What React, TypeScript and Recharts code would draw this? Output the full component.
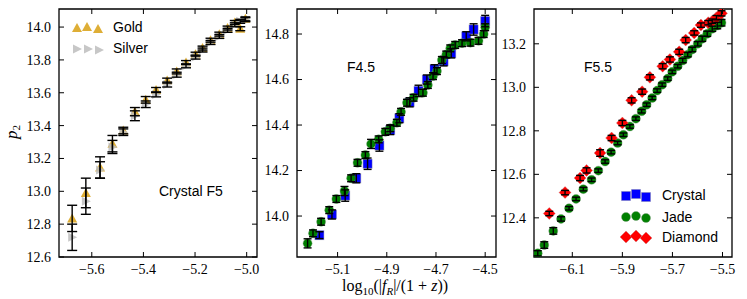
import React from 'react';
import { ScatterChart, Scatter, XAxis, YAxis, ErrorBar, ReferenceArea } from 'recharts';

// Crystal F5 panel (gold / silver)
const f5X = [-5.676, -5.623, -5.568, -5.52, -5.478, -5.433, -5.391, -5.351, -5.308, -5.271, -5.235, -5.198, -5.171, -5.14, -5.106, -5.074, -5.046, -5.025, -5.005];
const goldY = [12.835, 12.99, 13.145, 13.29, 13.37, 13.485, 13.557, 13.617, 13.674, 13.73, 13.784, 13.835, 13.872, 13.92, 13.957, 13.994, 14.028, 13.99, 14.05];
const goldErr = [0.08, 0.09, 0.065, 0.05, 0.02, 0.025, 0.02, 0.015, 0.015, 0.015, 0.012, 0.012, 0.012, 0.012, 0.012, 0.012, 0.012, 0.012, 0.012];
const silverY = [12.72, 12.94, 13.13, 13.27, 13.36, 13.46, 13.53, 13.59, 13.65, 13.71, 13.764, 13.817, 13.86, 13.906, 13.943, 13.98, 14.014, 14.035, 14.045];
const silverErr = [0.08, 0.08, 0.05, 0.04, 0.02, 0.03, 0.02, 0.015, 0.015, 0.015, 0.012, 0.012, 0.012, 0.012, 0.012, 0.012, 0.012, 0.012, 0.012];

// F4.5 panel
const f45JadeX = [-5.222, -5.2, -5.167, -5.134, -5.105, -5.072, -5.045, -5.019, -4.987, -4.964, -4.933, -4.906, -4.886, -4.859, -4.842, -4.818, -4.791, -4.753, -4.733, -4.712, -4.696, -4.676, -4.658, -4.642, -4.622, -4.594, -4.56, -4.527, -4.506, -4.5];
const f45JadeY = [13.88, 13.924, 13.975, 14.026, 14.075, 14.11, 14.166, 14.234, 14.268, 14.317, 14.337, 14.37, 14.386, 14.41, 14.458, 14.498, 14.52, 14.542, 14.576, 14.615, 14.637, 14.686, 14.71, 14.737, 14.752, 14.76, 14.762, 14.77, 14.8, 14.83];
const f45JadeErr = [0.02, 0.015, 0.015, 0.015, 0.015, 0.02, 0.015, 0.015, 0.015, 0.02, 0.015, 0.015, 0.015, 0.015, 0.015, 0.015, 0.015, 0.015, 0.015, 0.015, 0.015, 0.015, 0.015, 0.015, 0.015, 0.015, 0.015, 0.015, 0.015, 0.015];
const f45CrystalX = [-5.174, -5.123, -5.069, -5.024, -4.978, -4.93, -4.886, -4.849, -4.807, -4.771, -4.737, -4.706, -4.669, -4.638, -4.577, -4.547, -4.5];
const f45CrystalY = [13.916, 14.007, 14.09, 14.166, 14.23, 14.31, 14.378, 14.43, 14.5, 14.55, 14.6, 14.645, 14.68, 14.715, 14.79, 14.82, 14.857];
const f45CrystalErr = [0.015, 0.02, 0.025, 0.02, 0.025, 0.025, 0.02, 0.02, 0.02, 0.025, 0.02, 0.02, 0.02, 0.02, 0.02, 0.025, 0.025];

// F5.5 panel
const f55JadeX = [-6.238, -6.212, -6.176, -6.145, -6.113, -6.085, -6.056, -6.023, -5.996, -5.969, -5.945, -5.919, -5.896, -5.87, -5.846, -5.823, -5.803, -5.781, -5.761, -5.741, -5.719, -5.701, -5.679, -5.659, -5.639, -5.621, -5.599, -5.581, -5.561, -5.541, -5.521, -5.504];
const f55JadeY = [12.237, 12.275, 12.34, 12.395, 12.444, 12.487, 12.532, 12.575, 12.617, 12.659, 12.702, 12.744, 12.782, 12.82, 12.856, 12.89, 12.92, 12.951, 12.985, 13.012, 13.04, 13.071, 13.097, 13.123, 13.15, 13.174, 13.2, 13.223, 13.246, 13.269, 13.284, 13.297];
const f55JadeErr = [0.012, 0.015, 0.015, 0.01, 0.008, 0.008, 0.008, 0.008, 0.008, 0.008, 0.008, 0.008, 0.008, 0.008, 0.008, 0.008, 0.008, 0.008, 0.008, 0.008, 0.008, 0.008, 0.008, 0.01, 0.01, 0.01, 0.01, 0.012, 0.012, 0.012, 0.015, 0.015];
const f55DiamondX = [-6.192, -6.129, -6.069, -6.043, -5.989, -5.943, -5.9, -5.863, -5.821, -5.79, -5.739, -5.71, -5.673, -5.647, -5.613, -5.586, -5.557, -5.541, -5.524, -5.504];
const f55DiamondY = [12.42, 12.516, 12.583, 12.618, 12.698, 12.767, 12.836, 12.94, 12.98, 13.046, 13.097, 13.128, 13.163, 13.217, 13.25, 13.286, 13.297, 13.304, 13.32, 13.34];
const f55DiamondErr = [0.01, 0.01, 0.012, 0.012, 0.015, 0.012, 0.012, 0.012, 0.012, 0.012, 0.012, 0.012, 0.012, 0.012, 0.01, 0.01, 0.01, 0.01, 0.01, 0.012];

const toPts = (xs: number[], ys: number[], es: number[]) =>
  xs.map((x, i) => ({ x, y: ys[i], err: es[i] }));

const fmt = (v: number) => v.toFixed(1).replace('-', '\u2212');
const serif = "'Liberation Serif', 'DejaVu Serif', serif";
const sans = "'Liberation Sans', Arial, sans-serif";

const Gold = (p: any) => (
  <polygon points={`${p.cx},${p.cy - 5} ${p.cx + 5},${p.cy + 4} ${p.cx - 5},${p.cy + 4}`} fill="#DAA520" fillOpacity={0.9} />
);
const Silver = (p: any) => (
  <polygon points={`${p.cx - 4},${p.cy - 4.5} ${p.cx + 5},${p.cy} ${p.cx - 4},${p.cy + 4.5}`} fill="#bdbdbd" fillOpacity={0.85} />
);
const Crystal = (p: any) => (
  <rect x={p.cx - 4.5} y={p.cy - 4.5} width={9} height={9} fill="#0000ff" stroke="#8080a0" strokeOpacity={0.4} />
);
const Jade = (p: any) => (
  <circle cx={p.cx} cy={p.cy} r={4.5} fill="#008000" stroke="#7a9a7a" strokeOpacity={0.4} />
);
const Diamond = (p: any) => (
  <polygon points={`${p.cx},${p.cy - 6} ${p.cx + 6},${p.cy} ${p.cx},${p.cy + 6} ${p.cx - 6},${p.cy}`} fill="#ff0000" stroke="#c08080" strokeOpacity={0.4} />
);
// error bars are drawn by a second scatter with no visible symbol, so they sit on top of the markers
const NoMark = () => <g />;

type Series = { name: string; data: { x: number; y: number; err: number }[]; shape: (p: any) => React.ReactElement; cap: number };

type PanelProps = {
  left: number; width: number; yW: number; ml: number; mr: number;
  xDomain: [number, number]; yDomain: [number, number];
  xTicks: number[]; yTicks: number[]; series: Series[];
};

const H = 299;
const MT = 9;
const XH = 30;
const MB = 12;

function Panel({ left, width, yW, ml, mr, xDomain, yDomain, xTicks, yTicks, series }: PanelProps) {
  const box = { left: ml + yW, right: width - mr, top: MT, bottom: H - MB - XH };
  const xTick = (props: any) => (
    <g>
      <line x1={props.x} x2={props.x} y1={box.bottom} y2={box.bottom - 5} stroke="#000" />
      <line x1={props.x} x2={props.x} y1={box.top} y2={box.top + 5} stroke="#000" />
      <text x={props.x} y={box.bottom + 17} textAnchor="middle" fontFamily={serif} fontSize={14} fill="#000">
        {fmt(props.payload.value)}
      </text>
    </g>
  );
  const yTick = (props: any) => (
    <g>
      <line x1={box.left} x2={box.left + 5} y1={props.y} y2={props.y} stroke="#000" />
      <line x1={box.right} x2={box.right - 5} y1={props.y} y2={props.y} stroke="#000" />
      <text x={box.left - 8} y={props.y} dy="0.35em" textAnchor="end" fontFamily={serif} fontSize={14} fill="#000">
        {fmt(props.payload.value)}
      </text>
    </g>
  );
  return (
    <div style={{ position: 'absolute', left, top: 0 }}>
      <ScatterChart width={width} height={H} margin={{ top: MT, right: mr, bottom: MB, left: ml }}>
        <XAxis type="number" dataKey="x" domain={xDomain} ticks={xTicks} interval={0} allowDataOverflow
          axisLine={false} tickLine={false} tick={xTick} height={XH} />
        <YAxis type="number" dataKey="y" domain={yDomain} ticks={yTicks} interval={0} allowDataOverflow
          axisLine={false} tickLine={false} tick={yTick} width={yW} />
        <ReferenceArea x1={xDomain[0]} x2={xDomain[1]} y1={yDomain[0]} y2={yDomain[1]}
          fill="none" fillOpacity={0} stroke="#000" strokeWidth={1.3} />
        {series.map((s) => (
          <Scatter key={s.name} name={s.name} data={s.data} shape={s.shape} isAnimationActive={false} />
        ))}
        {series.map((s) => (
          <Scatter key={s.name + '-err'} name={s.name + ' err'} data={s.data} shape={NoMark} isAnimationActive={false} {...({ zIndex: 700 } as any)}>
            <ErrorBar dataKey="err" direction="y" width={s.cap} stroke="#000" strokeWidth={1.4} {...({ zIndex: 700 } as any)} />
          </Scatter>
        ))}
      </ScatterChart>
    </div>
  );
}

const lbl = (left: number, top: number): React.CSSProperties => ({
  position: 'absolute', left, top, fontFamily: sans, fontSize: 14, lineHeight: '16px', whiteSpace: 'nowrap',
});

const sub: React.CSSProperties = { fontSize: 11, position: 'relative', top: 4 };

export default function App() {
  return (
    <div style={{ position: 'absolute', left: 0, top: 0, width: 747, height: 299, background: '#fff' }}>
      <Panel left={0} width={262} yW={50} ml={9} mr={5}
        xDomain={[-5.727, -4.96]} yDomain={[12.6, 14.11]}
        xTicks={[-5.6, -5.4, -5.2, -5.0]} yTicks={[12.6, 12.8, 13.0, 13.2, 13.4, 13.6, 13.8, 14.0]}
        series={[
          { name: 'Gold', data: toPts(f5X, goldY, goldErr), shape: Gold, cap: 5 },
          { name: 'Silver', data: toPts(f5X, silverY, silverErr), shape: Silver, cap: 5 },
        ]} />
      <Panel left={250} width={250} yW={40} ml={7} mr={4}
        xDomain={[-5.265, -4.456]} yDomain={[13.82, 14.91]}
        xTicks={[-5.1, -4.9, -4.7, -4.5]} yTicks={[14.0, 14.2, 14.4, 14.6, 14.8]}
        series={[
          { name: 'Crystal', data: toPts(f45CrystalX, f45CrystalY, f45CrystalErr), shape: Crystal, cap: 4 },
          { name: 'Jade', data: toPts(f45JadeX, f45JadeY, f45JadeErr), shape: Jade, cap: 4 },
        ]} />
      <Panel left={490} width={257} yW={40} ml={4} mr={15}
        xDomain={[-6.253, -5.462]} yDomain={[12.22, 13.36]}
        xTicks={[-6.1, -5.9, -5.7, -5.5]} yTicks={[12.4, 12.6, 12.8, 13.0, 13.2]}
        series={[
          { name: 'Jade', data: toPts(f55JadeX, f55JadeY, f55JadeErr), shape: Jade, cap: 4 },
          { name: 'Diamond', data: toPts(f55DiamondX, f55DiamondY, f55DiamondErr), shape: Diamond, cap: 4 },
        ]} />

      {/* panel labels */}
      <div style={lbl(159, 183)}>Crystal F5</div>
      <div style={lbl(347, 59)}>F4.5</div>
      <div style={lbl(584, 59)}>F5.5</div>

      {/* legends */}
      <svg width={747} height={299} style={{ position: 'absolute', left: 0, top: 0, pointerEvents: 'none' }}>
        <Gold cx={77} cy={28} /><Gold cx={87} cy={27} /><Gold cx={98} cy={29} />
        <Silver cx={77} cy={49} /><Silver cx={88} cy={49} /><Silver cx={99} cy={50} />
        <text x={113} y={27} dy="0.35em" fontFamily={sans} fontSize={14}>Gold</text>
        <text x={113} y={48} dy="0.35em" fontFamily={sans} fontSize={14}>Silver</text>
        <Crystal cx={626} cy={196} /><Crystal cx={636} cy={194} /><Crystal cx={646} cy={197} />
        <Jade cx={626} cy={217} /><Jade cx={636} cy={216} /><Jade cx={646} cy={218} />
        <Diamond cx={626} cy={237} /><Diamond cx={636} cy={236} /><Diamond cx={646} cy={238} />
        <text x={662} y={195} dy="0.35em" fontFamily={sans} fontSize={14}>Crystal</text>
        <text x={662} y={217} dy="0.35em" fontFamily={sans} fontSize={14}>Jade</text>
        <text x={662} y={237} dy="0.35em" fontFamily={sans} fontSize={14}>Diamond</text>
      </svg>

      {/* axis labels */}
      <div style={{ position: 'absolute', left: 2, top: 122, width: 20, height: 20, fontFamily: serif, fontSize: 17,
        transform: 'rotate(-90deg)', lineHeight: '20px', textAlign: 'center' }}>
        <i>p</i><span style={{ fontSize: 11, position: 'relative', top: 3 }}>2</span>
      </div>
      <div style={{ position: 'absolute', left: 245, top: 279, width: 300, textAlign: 'center', fontFamily: serif, fontSize: 16, lineHeight: '13px' }}>
        log<span style={sub}>10</span>(|<i>f</i><span style={sub}><i>R</i></span>|/(1 + <i>z</i>))
      </div>
    </div>
  );
}
